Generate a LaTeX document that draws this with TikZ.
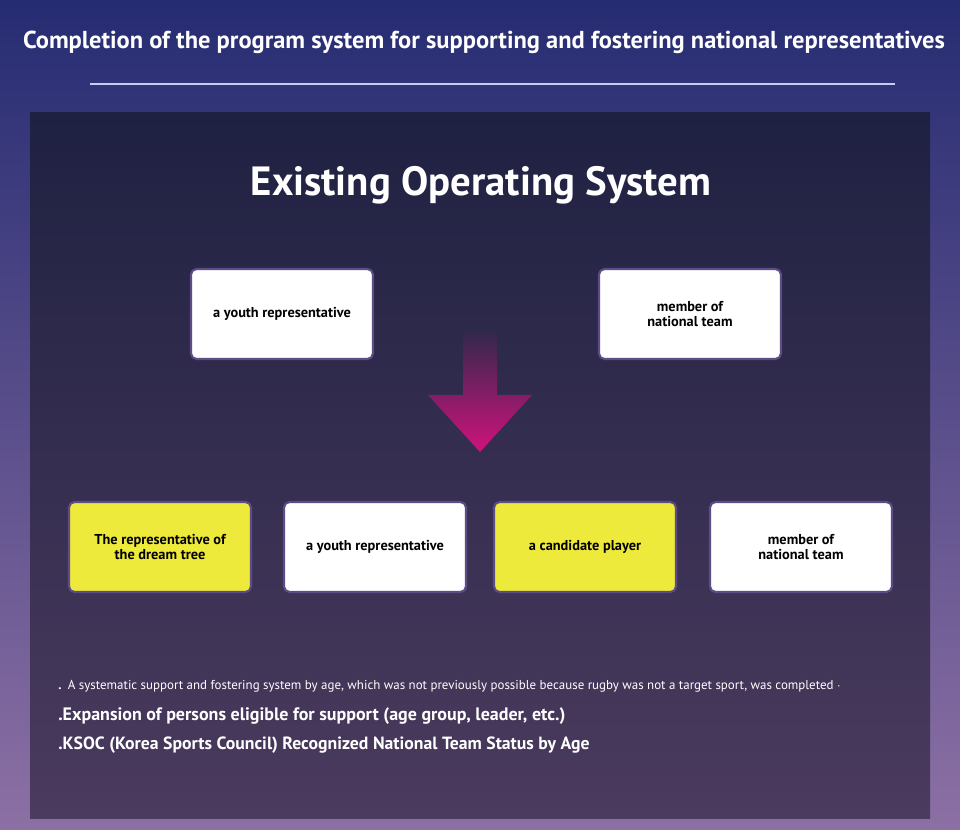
\documentclass[tikz,border=0pt]{standalone}
\usepackage{fontspec}
\setmainfont{PT Sans}
\usepackage{tikz}
\usetikzlibrary{positioning}
\definecolor{bgtop}{HTML}{262C72}
\definecolor{bgbot}{HTML}{8C70A4}
\definecolor{paneltop}{HTML}{1F2142}
\definecolor{panelbot}{HTML}{4B3B5E}
\definecolor{boxline}{HTML}{5E4C86}
\definecolor{dreamyellow}{HTML}{EEEA3C}
\definecolor{arrowpink}{HTML}{D0127C}
\definecolor{rulelav}{HTML}{C8CCF0}

\begin{document}
\begin{tikzpicture}[x=0.025cm, y=-0.025cm,
    box/.style={draw=boxline, line width=1.5pt, rounded corners=4pt, fill=white, minimum width=4.55cm, minimum height=2.25cm, align=center, font=\bfseries\fontsize{10.2}{10.6}\selectfont, text=black},
    ybox/.style={box, fill=dreamyellow},
    note/.style={anchor=west, text=white, inner sep=0pt}
]
\useasboundingbox (0,0) rectangle (960,829);
\shade[top color=bgtop, bottom color=bgbot] (0,0) rectangle (960,829);
\shade[top color=paneltop, bottom color=panelbot] (30,112) rectangle (930,818);

\node[text=white, font=\bfseries\fontsize{17.4}{20}\selectfont] (title) at (484,42) {Completion of the program system for supporting and fostering national representatives};
\draw[rulelav, line width=1.2pt] (90,84) -- (895,84);

\node[text=white, font=\bfseries\fontsize{29}{34}\selectfont] (head) at (481,185) {Existing Operating System};

\node[box] (topyouth) at (282,314) {a youth representative};
\node[box] (topnat) at (690,314) {member of\\national team};

\shade[top color=panelbot!31!paneltop, bottom color=arrowpink]
  (463,328) -- (497,328) -- (497,395) -- (532,395) -- (480,452) -- (428,395) -- (463,395) -- cycle;

\node[ybox] (dream) at (160,547) {The representative of\\the dream tree};
\node[box] (youth) at (375,547) {a youth representative};
\node[ybox] (cand) at (585,547) {a candidate player};
\node[box] (nat) at (801,547) {member of\\national team};

\node[note, font=\fontsize{9.2}{11}\selectfont] (line1) at (58,686) {\textbf{.}\enspace A systematic support and fostering system by age, which was not previously possible because rugby was not a target sport, was completed $\cdot$};
\node[note, font=\bfseries\fontsize{12.8}{15}\selectfont] (line2) at (58,716) {.Expansion of persons eligible for support (age group, leader, etc.)};
\node[note, font=\bfseries\fontsize{12.6}{15}\selectfont] (line3) at (58,745) {.KSOC (Korea Sports Council) Recognized National Team Status by Age};
\end{tikzpicture}
\end{document}
